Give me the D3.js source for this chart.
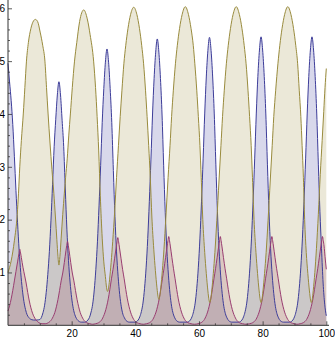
<!DOCTYPE html>
<html>
<head>
<meta charset="utf-8">
<script src="https://cdn.jsdelivr.net/npm/d3@7"></script>
<style>
  html, body { margin: 0; padding: 0; background: #ffffff; }
  svg { display: block; }
</style>
</head>
<body>
<svg id="chart" width="335" height="341"></svg>
<script>
// Tick values
const xMajorTicks = [20, 40, 60, 80, 100];
const xMinorTicks = [5, 10, 15, 25, 30, 35, 45, 50, 55, 65, 70, 75, 85, 90, 95];
const yMajorTicks = [1, 2, 3, 4, 5, 6];
const yMinorTicks = [0.2, 0.4, 0.6, 0.8, 1.2, 1.4, 1.6, 1.8, 2.2, 2.4, 2.6, 2.8,
  3.2, 3.4, 3.6, 3.8, 4.2, 4.4, 4.6, 4.8, 5.2, 5.4, 5.6, 5.8, 6.2];

// Series values as [t, value]
const blueSeries = [
  [0,4.96],[0.5,4.6],[1,4.25],[1.5,3.8],[2,3.2],[2.5,2.55],[3,1.95],[3.5,1.42],[4,1.0],
  [4.5,0.68],[5,0.45],[5.5,0.3],[6,0.2],[6.5,0.15],[7,0.12],[8,0.1],[9,0.1],[10,0.11],
  [10.5,0.15],[11,0.24],[11.5,0.38],[12,0.62],[12.5,0.96],[13,1.4],[13.5,1.99],[14,2.67],
  [14.5,3.38],[15,3.9],[15.5,4.36],[16,4.61],[16.5,4.36],[17,3.88],[17.5,3.38],[18,2.58],
  [18.5,1.82],[19,1.23],[19.5,0.82],[20,0.52],[20.5,0.32],[21,0.2],[21.5,0.13],[22,0.09],
  [23,0.06],[24.1,0.06],[25.1,0.1],[25.6,0.15],[26.1,0.25],[26.6,0.4],[27.1,0.67],
  [27.6,1.06],[28.1,1.58],[28.6,2.26],[29.1,3.02],[29.6,3.84],[30.1,4.48],[30.6,4.98],
  [31.1,5.23],[31.6,4.98],[32.1,4.48],[32.6,3.84],[33.1,2.93],[33.6,2.06],[34.1,1.39],
  [34.6,0.92],[35.1,0.58],[35.6,0.35],[36.1,0.21],[36.6,0.14],[37.1,0.09],[38.1,0.06],
  [39.9,0.06],[40.9,0.1],[41.4,0.16],[41.9,0.26],[42.4,0.42],[42.9,0.7],[43.4,1.1],
  [43.9,1.64],[44.4,2.34],[44.9,3.13],[45.4,3.98],[45.9,4.67],[46.4,5.17],[46.9,5.42],
  [47.4,5.17],[47.9,4.67],[48.4,3.98],[48.9,3.03],[49.4,2.14],[49.9,1.44],[50.4,0.95],
  [50.9,0.6],[51.4,0.36],[51.9,0.22],[52.4,0.14],[52.9,0.09],[53.9,0.06],[56.3,0.06],
  [57.3,0.1],[57.8,0.16],[58.3,0.26],[58.8,0.42],[59.3,0.7],[59.8,1.1],[60.3,1.65],
  [60.8,2.35],[61.3,3.15],[61.8,4.0],[62.3,4.7],[62.8,5.2],[63.3,5.45],[63.8,5.2],
  [64.3,4.7],[64.8,4.0],[65.3,3.05],[65.8,2.15],[66.3,1.45],[66.8,0.95],[67.3,0.6],
  [67.8,0.36],[68.3,0.22],[68.8,0.14],[69.3,0.09],[70.3,0.06],[72.5,0.06],[73.5,0.1],
  [74,0.16],[74.5,0.26],[75,0.42],[75.5,0.7],[76,1.1],[76.5,1.65],[77,2.35],[77.5,3.15],
  [78,4.0],[78.5,4.71],[79,5.21],[79.5,5.46],[80,5.21],[80.5,4.71],[81,4.0],[81.5,3.05],
  [82,2.15],[82.5,1.45],[83,0.95],[83.5,0.6],[84,0.36],[84.5,0.22],[85,0.14],[85.5,0.09],
  [86.5,0.06],[88.5,0.06],[89.5,0.1],[90,0.16],[90.5,0.26],[91,0.42],[91.5,0.7],[92,1.1],
  [92.5,1.65],[93,2.35],[93.5,3.15],[94,4.0],[94.5,4.71],[95,5.21],[95.5,5.46],[96,5.21],
  [96.5,4.71],[97,4.0],[97.5,3.05],[98,2.15],[98.5,1.45],[99,0.8],[99.5,0.4],[100,0.18]
];

const redSeries = [
  [0,0.27],[0.5,0.37],[1,0.5],[1.5,0.66],[2,0.84],[2.5,1.02],[3,1.2],[3.45,1.36],[3.7,1.44],
  [3.95,1.37],[4.2,1.28],[4.7,1.1],[5.2,0.95],[5.7,0.8],[6.2,0.62],[6.7,0.46],[7.2,0.33],
  [7.7,0.23],[8.2,0.16],[8.7,0.11],[9.7,0.05],[10.7,0.03],[11.7,0.03],[12.7,0.05],
  [13.7,0.11],[14.2,0.165],[14.7,0.24],[15.2,0.35],[15.7,0.49],[16.2,0.66],[16.7,0.84],
  [17.2,0.99],[17.7,1.19],[18.2,1.41],[18.45,1.51],[18.7,1.59],[18.95,1.51],[19.2,1.41],
  [19.7,1.19],[20.2,0.99],[20.7,0.84],[21.2,0.66],[21.7,0.49],[22.2,0.35],[22.7,0.24],
  [23.2,0.165],[23.7,0.11],[24.7,0.05],[25.7,0.03],[26.6,0.02],[27.5,0.03],[28.5,0.05],
  [29.5,0.11],[30,0.17],[30.5,0.25],[31,0.36],[31.5,0.5],[32,0.68],[32.5,0.88],[33,1.06],
  [33.5,1.27],[34,1.48],[34.25,1.58],[34.5,1.66],[34.75,1.58],[35,1.48],[35.5,1.27],
  [36,1.06],[36.5,0.88],[37,0.68],[37.5,0.5],[38,0.36],[38.5,0.25],[39,0.17],[39.5,0.11],
  [40.5,0.05],[41.5,0.03],[42.5,0.02],[43.5,0.03],[44.5,0.05],[45.5,0.11],[46,0.17],
  [46.5,0.25],[47,0.36],[47.5,0.5],[48,0.68],[48.5,0.88],[49,1.07],[49.5,1.28],[50,1.5],
  [50.25,1.6],[50.5,1.68],[50.75,1.6],[51,1.5],[51.5,1.28],[52,1.07],[52.5,0.88],[53,0.68],
  [53.5,0.5],[54,0.36],[54.5,0.25],[55,0.17],[55.5,0.11],[56.5,0.05],[57.5,0.03],
  [58.6,0.02],[59.7,0.03],[60.7,0.05],[61.7,0.11],[62.2,0.17],[62.7,0.25],[63.2,0.36],
  [63.7,0.5],[64.2,0.68],[64.7,0.88],[65.2,1.07],[65.7,1.28],[66.2,1.5],[66.45,1.6],
  [66.7,1.68],[66.95,1.6],[67.2,1.5],[67.7,1.28],[68.2,1.07],[68.7,0.88],[69.2,0.68],
  [69.7,0.5],[70.2,0.36],[70.7,0.25],[71.2,0.17],[71.7,0.11],[72.7,0.05],[73.7,0.03],
  [74.8,0.02],[75.9,0.03],[76.9,0.05],[77.9,0.11],[78.4,0.17],[78.9,0.25],[79.4,0.36],
  [79.9,0.5],[80.4,0.68],[80.9,0.88],[81.4,1.07],[81.9,1.28],[82.4,1.5],[82.65,1.6],
  [82.9,1.68],[83.15,1.6],[83.4,1.5],[83.9,1.28],[84.4,1.07],[84.9,0.88],[85.4,0.68],
  [85.9,0.5],[86.4,0.36],[86.9,0.25],[87.4,0.17],[87.9,0.11],[88.9,0.05],[89.9,0.03],
  [90.8,0.02],[91.8,0.03],[92.8,0.05],[93.8,0.11],[94.3,0.17],[94.8,0.25],[95.3,0.36],
  [95.8,0.5],[96.3,0.68],[96.8,0.88],[97.3,1.07],[97.8,1.28],[98.3,1.5],[98.55,1.6],
  [98.8,1.68],[99.05,1.6],[99.3,1.5],[99.6,1.3],[100,1.06]
];

const goldSeries = [
  [0,1.0],[1,1.22],[2,1.6],[2.9,2.1],[3.3,2.5],[3.7,3.0],[4.2,3.5],[4.8,4.0],[5.3,4.5],
  [5.8,5.0],[6.4,5.35],[7.2,5.62],[8,5.76],[8.6,5.79],[9.3,5.75],[10.1,5.55],[10.9,5.3],
  [11.6,5.0],[12.1,4.5],[12.6,4.0],[13.2,3.45],[13.8,2.95],[14.4,2.5],[14.9,2.05],
  [15.35,1.62],[15.7,1.3],[16,1.14],[16.3,1.3],[16.7,1.65],[17.2,2.1],[17.7,2.5],[18.1,2.8],
  [18.6,3.15],[19.1,3.6],[19.6,4.0],[20.2,4.5],[20.9,5.0],[21.6,5.35],[22.5,5.75],
  [23.8,5.97],[24.9,5.8],[25.8,5.5],[26.9,5.0],[27.5,4.5],[28,3.95],[28.5,3.3],[29,2.45],
  [29.6,1.65],[30.1,1.2],[30.6,0.92],[30.95,0.72],[31.3,0.64],[31.55,0.69],[31.9,0.86],
  [32.4,1.19],[32.9,1.59],[33.5,2.14],[34.1,2.8],[34.7,3.4],[35.25,3.95],[35.8,4.45],
  [36.4,4.95],[37,5.3],[37.7,5.62],[38.5,5.88],[39.5,6.02],[40.5,5.88],[41.3,5.62],
  [42,5.3],[42.6,4.95],[43.2,4.45],[43.7,3.95],[44.2,3.4],[44.7,2.8],[45.2,2.05],
  [45.8,1.44],[46.3,1.04],[46.8,0.71],[47.15,0.54],[47.4,0.49],[47.65,0.54],[48,0.71],
  [48.5,1.04],[49,1.44],[49.6,2.05],[50.3,2.8],[50.9,3.4],[51.4,3.95],[51.95,4.45],
  [52.6,4.95],[53.2,5.3],[53.9,5.62],[54.7,5.88],[55.7,6.03],[56.7,5.88],[57.5,5.62],
  [58.2,5.3],[58.7,4.95],[59.3,4.45],[59.8,3.95],[60.3,3.4],[60.7,2.8],[61.2,2.0],
  [61.8,1.38],[62.3,0.98],[62.8,0.65],[63.15,0.48],[63.4,0.43],[63.65,0.48],[64,0.65],
  [64.5,0.98],[65,1.38],[65.6,1.98],[66.3,2.75],[66.9,3.4],[67.4,3.95],[67.95,4.45],
  [68.6,4.95],[69.2,5.3],[69.9,5.62],[70.7,5.88],[71.7,6.03],[72.7,5.88],[73.5,5.62],
  [74.2,5.3],[74.8,4.95],[75.4,4.45],[75.9,3.95],[76.4,3.4],[76.8,2.8],[77.3,2.0],
  [77.9,1.38],[78.4,0.98],[78.9,0.65],[79.25,0.48],[79.5,0.43],[79.75,0.48],[80.1,0.65],
  [80.6,0.98],[81.1,1.38],[81.7,1.98],[82.4,2.75],[83,3.4],[83.5,3.95],[84.1,4.45],
  [84.8,4.95],[85.4,5.3],[86.1,5.62],[86.9,5.88],[87.9,6.03],[88.9,5.88],[89.7,5.62],
  [90.4,5.3],[91,4.95],[91.5,4.45],[92,3.95],[92.4,3.4],[92.8,2.8],[93.2,2.0],[93.7,1.38],
  [94.2,0.98],[94.7,0.65],[95.05,0.48],[95.3,0.43],[95.55,0.48],[95.9,0.66],[96.4,1.0],
  [96.9,1.45],[97.5,2.1],[98.1,2.85],[98.7,3.5],[99.2,4.05],[99.6,4.5],[100,4.86]
];

const seriesList = [
  { data: blueSeries, color: "#3d3d99" },
  { data: redSeries,  color: "#993d71" },
  { data: goldSeries, color: "#998b3d" }
];

const svg = d3.select("#chart");
const x = d3.scaleLinear().domain([0, 100]).range([8, 326.3]);
const y = d3.scaleLinear().domain([0, 6]).range([325.3, 8.3]);

const area = d3.area()
  .curve(d3.curveMonotoneX)
  .x(d => x(d[0]))
  .y0(y(0))
  .y1(d => y(d[1]));

const line = d3.line()
  .curve(d3.curveMonotoneX)
  .x(d => x(d[0]))
  .y(d => y(d[1]));

// filled regions down to the axis
svg.append("g").selectAll("path")
  .data(seriesList)
  .join("path")
  .attr("d", s => area(s.data))
  .attr("fill", s => s.color)
  .attr("fill-opacity", 0.2)
  .attr("stroke", "none");

// curves
svg.append("g").selectAll("path")
  .data(seriesList)
  .join("path")
  .attr("d", s => line(s.data))
  .attr("fill", "none")
  .attr("stroke", s => s.color)
  .attr("stroke-width", 1);

// axes
const axisColor = "#333";
const fontFamily = "'Liberation Sans', Arial, sans-serif";

const gx = svg.append("g").attr("transform", `translate(0,${y(0)})`);
gx.call(d3.axisBottom(x).tickValues(xMinorTicks).tickSize(-2).tickFormat(""));
gx.call(g => g.select(".domain").remove());
const gxMajor = svg.append("g").attr("transform", `translate(0,${y(0)})`)
  .call(d3.axisBottom(x).tickValues(xMajorTicks).tickSize(-4).tickPadding(5).tickFormat(d3.format("d")));
gxMajor.select(".domain").remove();

const gy = svg.append("g").attr("transform", `translate(${x(0)},0)`);
gy.call(d3.axisLeft(y).tickValues(yMinorTicks).tickSize(-2).tickFormat(""));
gy.call(g => g.select(".domain").remove());
const gyMajor = svg.append("g").attr("transform", `translate(${x(0)},0)`)
  .call(d3.axisLeft(y).tickValues(yMajorTicks).tickSize(-4).tickPadding(3).tickFormat(d3.format("d")));
gyMajor.select(".domain").remove();

svg.selectAll(".tick line").attr("stroke", axisColor).attr("stroke-width", 0.8);
svg.selectAll(".tick text").attr("fill", "#000").style("font-family", fontFamily).style("font-size", "10px");

// axis lines
svg.append("line")
  .attr("x1", x(0)).attr("x2", 329)
  .attr("y1", y(0)).attr("y2", y(0))
  .attr("stroke", axisColor).attr("stroke-width", 1);
svg.append("line")
  .attr("x1", x(0)).attr("x2", x(0))
  .attr("y1", y(0)).attr("y2", 0)
  .attr("stroke", axisColor).attr("stroke-width", 1);
</script>
</body>
</html>
